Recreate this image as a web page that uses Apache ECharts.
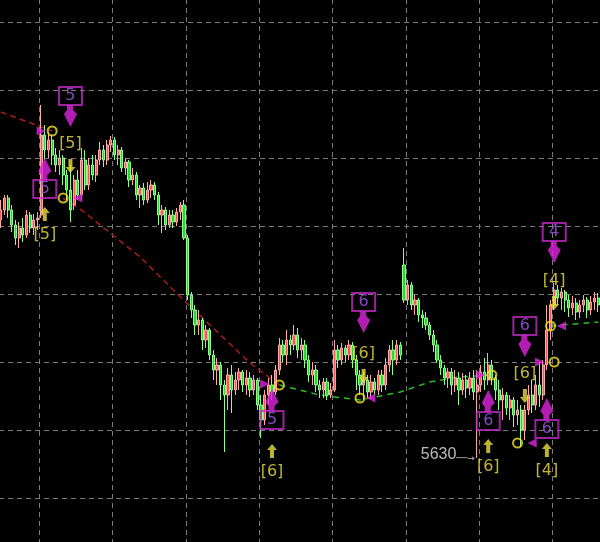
<!DOCTYPE html>
<html>
<head>
<meta charset="utf-8">
<script src="https://cdn.jsdelivr.net/npm/echarts@6/dist/echarts.min.js"></script>
<style>
html,body{margin:0;padding:0;background:#000;overflow:hidden;width:600px;height:542px;position:relative;}
#chart{position:absolute;left:-1px;top:-46px;width:601px;height:612px;}
</style>
</head>
<body>
<div id="chart"></div>
<script>
// ---- candle data (open, close, low, high) ----
const opens = [
5749,5754,5760,5754,5746.5,5740,5745,5741.5,5751.5,5745,
5749,5751.5,5791.5,5784,5789,5781.5,5776.5,5780,5771.5,5764,
5756.5,5769,5761.5,5779,5766.5,5776.5,5771.5,5779,5784,5779,
5786.5,5789,5781.5,5784,5775,5778,5769,5771.5,5761.5,5765,
5759,5764,5766.5,5761.5,5751.5,5754,5746.5,5751.5,5748,5753,
5756.5,5740,5711.5,5704,5696.5,5699,5689,5694,5681.5,5674,
5676.5,5666.5,5661.5,5671.5,5664,5669,5673,5666.5,5670,5664,
5669,5656.5,5649,5661.5,5666.5,5663,5674,5686.5,5681.5,5689,
5686.5,5691.5,5684,5686.5,5679,5671.5,5674,5666.5,5664,5668,
5661.5,5664,5684,5679,5685,5681.5,5686.5,5679,5671.5,5666.5,
5669,5663,5668,5664,5671.5,5666.5,5676.5,5684,5679,5686.5,
5726.5,5709,5716.5,5706.5,5709,5701.5,5700,5696.5,5691.5,5686.5,
5679,5675,5670,5673,5666.5,5670,5664,5669,5665,5670,
5663,5666.5,5673,5669,5676.5,5670,5664,5659,5661.5,5655,
5659,5651.5,5654,5644,5654,5661.5,5656.5,5666.5,5661.5,5676.5,
5694,5706.5,5714,5710,5713,5709,5705,5707.5,5703,5706.5,
5709,5704,5708,5710
];
const closes = [
5754,5760,5754,5746.5,5740,5745,5741.5,5751.5,5745,5749,
5750,5791.5,5784,5789,5781.5,5776.5,5780,5771.5,5764,5754,
5769,5761.5,5779,5766.5,5776.5,5771.5,5779,5784,5779,5786.5,
5789,5781.5,5784,5775,5778,5769,5771.5,5761.5,5765,5759,
5764,5766.5,5761.5,5751.5,5754,5746.5,5751.5,5748,5753,5756.5,
5740,5711.5,5704,5696.5,5699,5689,5694,5681.5,5674,5676.5,
5666.5,5661.5,5671.5,5664,5669,5673,5666.5,5670,5664,5669,
5656.5,5649,5661.5,5666.5,5663,5674,5686.5,5681.5,5689,5686.5,
5691.5,5684,5686.5,5679,5671.5,5674,5666.5,5664,5668,5661.5,
5664,5684,5679,5685,5681.5,5686.5,5679,5671.5,5666.5,5669,
5663,5668,5664,5671.5,5666.5,5676.5,5684,5679,5686.5,5681.5,
5709,5716.5,5706.5,5709,5701.5,5700,5696.5,5691.5,5686.5,5679,
5675,5670,5673,5666.5,5670,5664,5669,5665,5670,5663,
5666.5,5673,5669,5676.5,5670,5664,5659,5661.5,5655,5659,
5651.5,5654,5644,5654,5661.5,5656.5,5666.5,5661.5,5676.5,5694,
5706.5,5714,5710,5713,5709,5705,5707.5,5703,5706.5,5709,
5704,5708,5710,5706.5
];
const lows = [
5745,5751.5,5750,5743,5736.5,5735,5738,5740,5742.5,5741.5,
5744,5750,5779,5780,5776.5,5773,5771.5,5766.5,5759,5748,
5754,5759,5759,5764,5764,5769,5768,5776.5,5775.5,5776.5,
5783,5779,5776.5,5773,5771.5,5765.5,5766.5,5759,5755,5756.5,
5757.5,5760,5759,5746.5,5742.5,5744,5745,5745,5746,5749,
5739,5709,5700,5691.5,5691.5,5684,5685,5679,5669,5666.5,
5659,5633,5654,5652.5,5661.5,5664,5663,5661.5,5660.5,5661.5,
5654,5640,5646.5,5656.5,5659,5661.5,5671.5,5678,5676.5,5681.5,
5684,5680,5679,5675,5668,5666.5,5663,5660,5660,5659,
5660,5663,5675,5676.5,5678,5679,5675,5664,5661.5,5659,
5660,5660,5661.5,5661.5,5663,5664,5673,5671.5,5676.5,5679,
5707.5,5706.5,5704,5701.5,5698,5695,5694,5689,5683,5677.5,
5671.5,5666.5,5665,5661.5,5663,5656.5,5661.5,5660,5661.5,5659,
5630,5663,5664,5666.5,5666.5,5659,5654,5649,5651.5,5649,
5645.5,5646.5,5635.5,5639,5651.5,5652.5,5654,5655.5,5659,5674,
5689,5704,5706.5,5704,5703,5700.5,5701.5,5699,5700,5703,
5700,5701.5,5704,5703
];
const highs = [
5759,5761.5,5761.5,5756.5,5749,5748,5750,5754,5753,5752,
5753,5806.5,5796.5,5793,5791.5,5785,5784,5781.5,5774,5776.5,
5771.5,5774,5785,5784,5780,5781.5,5781.5,5788,5786.5,5789,
5791,5790.5,5786.5,5785.5,5780,5779,5775,5773,5766.5,5767.5,
5768,5769,5768,5763,5756.5,5755.5,5754,5754,5755,5758,
5759,5741.5,5713,5706.5,5704,5700,5696.5,5695,5684,5680,
5678,5669,5675,5676.5,5673,5675,5674,5674,5673,5671.5,
5670,5661.5,5664,5670,5671.5,5676.5,5690,5689,5694,5691.5,
5696.5,5695,5690,5689,5681.5,5678,5676.5,5669,5670,5670,
5667.5,5689,5686.5,5687.5,5686.5,5689,5688,5681.5,5674,5673,
5671.5,5671.5,5670,5674,5674,5680,5686.5,5689,5689,5688,
5735,5719,5718,5711.5,5710,5704,5703,5698,5694,5689,
5681.5,5676.5,5675,5675,5674,5673,5672.5,5671.5,5673,5674,
5674,5676.5,5680,5682.5,5679,5671.5,5669,5665,5663,5661.5,
5660.5,5659,5656.5,5656.5,5666.5,5669,5671.5,5678,5679,5706.5,
5709,5717.5,5716.5,5715,5714,5711.5,5711,5710,5709,5711.5,
5710.5,5711,5713,5712.5
];
const categories = opens.map((_, i) => String(i));

// ---- trend lines (bar index, price) ----
const redLineA = [[0, 5803], [14, 5793.5]];
const redLineB = [[17, 5760], [22, 5754], [38, 5730.5], [49, 5710.5], [68, 5677.5], [76, 5666.5]];
const greenLineA = [[76, 5666.5], [87, 5661.5], [98, 5659], [109, 5663], [117, 5668], [125, 5670.5], [134, 5671.5]];
const greenLineB = [[150, 5696], [163, 5698]];

// ---- signals (bar index, price, text) ----
const sellPins = [[19, 5795.5, '5'], [99, 5692.5, '6'], [143, 5680.5, '6'], [151, 5727.5, '4']];
const buyPins  = [[12, 5780, '5'], [74, 5664.5, '5'], [133, 5664, '6'], [149, 5660, '6']];
const sellTags = [[19, 5776, '[5]'], [99, 5671, '[6]'], [143, 5661, '[6]'], [151, 5707.5, '[4]']];
const buyTags  = [[12, 5752, '[5]'], [74, 5633.5, '[6]'], [133, 5636, '[6]'], [149, 5634, '[4]']];
const pivots   = [[14, 5793.5], [17, 5760], [76, 5666.5], [98, 5660], [134, 5671.5], [141, 5637.5], [151, 5678], [150, 5696]];
const rightTris = [[11, 5793.5], [72, 5667], [131, 5671.5], [147, 5678]];
const leftTris  = [[21, 5760], [101, 5660], [145, 5637.5], [153, 5696]];
const lowMark = [130, 5630, '5630'];

const candles = opens.map((o, i) => [o, closes[i], lows[i], highs[i]]);
const toItems = arr => arr.map(d => ({ value: [d[0], d[1]], name: d[2] || '' }));

const MAG = '#e024e0';
const YEL = '#ece03c';
const pinDown = 'path://M3,0 L9,0 L9,5 L13,9 L6.5,22 L0,9 L3,5 Z';
const pinUp = 'path://M6.5,0 L13,13 L9,17 L9,22 L3,22 L3,17 L0,13 Z';
const arrUp = 'path://M5,0 L10,6 L7,6 L7,14 L3,14 L3,6 L0,6 Z';
const arrDown = 'path://M3,0 L7,0 L7,8 L10,8 L5,14 L0,8 L3,8 Z';

const boxLabel = (dy) => ({
  show: true, position: 'inside', offset: [0, dy], formatter: '{b}',
  color: '#a458ec', fontSize: 16, fontFamily: 'DejaVu Sans',
  borderColor: '#c02cc4', borderWidth: 2, padding: [1, 2],
  width: 19, height: 16, lineHeight: 16, align: 'center', verticalAlign: 'middle'
});
const tagLabel = (dy) => ({
  show: true, position: 'inside', offset: [0, dy], formatter: '{b}',
  color: YEL, fontSize: 16, fontFamily: 'DejaVu Sans'
});

const chart = echarts.init(document.getElementById('chart'));
chart.setOption({
  backgroundColor: '#000',
  animation: false,
  grid: { left: 0, right: 0, top: 0, bottom: 0 },
  xAxis: {
    type: 'category', data: categories, boundaryGap: true,
    axisLine: { show: false }, axisTick: { show: false }, axisLabel: { show: false },
    splitLine: { show: true, interval: (idx) => idx % 20 === 11,
      lineStyle: { color: '#7a7a7a', type: [5, 4], width: 1 } }
  },
  yAxis: {
    type: 'value', min: 5576, max: 5882, interval: 34,
    axisLine: { show: false }, axisTick: { show: false }, axisLabel: { show: false },
    splitLine: { show: true, lineStyle: { color: '#7a7a7a', type: [5, 4], width: 1 } }
  },
  series: [
    { type: 'line', data: redLineA, symbol: 'none', z: 1,
      lineStyle: { color: '#a81c1c', width: 1.5, type: [6, 4] } },
    { type: 'line', data: redLineB, symbol: 'none', z: 1,
      lineStyle: { color: '#a81c1c', width: 1.5, type: [6, 4] } },
    { type: 'line', data: greenLineA, symbol: 'none', z: 1,
      lineStyle: { color: '#24c024', width: 1.5, type: [6, 5] } },
    { type: 'line', data: greenLineB, symbol: 'none', z: 1,
      lineStyle: { color: '#24c024', width: 1.5, type: [6, 5] } },
    { type: 'candlestick', data: candles, barWidth: 2.7, z: 2,
      itemStyle: { color: '#ff5252', color0: '#28d828', borderColor: '#ffaaaa',
        borderColor0: '#8cff8c', borderWidth: 1 } },
    { type: 'scatter', data: toItems(sellPins), symbol: pinDown, symbolSize: [13, 22],
      symbolOffset: [0, -11], z: 5, itemStyle: { color: MAG }, label: boxLabel(-20) },
    { type: 'scatter', data: toItems(buyPins), symbol: pinUp, symbolSize: [13, 22],
      symbolOffset: [0, 11], z: 5, itemStyle: { color: MAG }, label: boxLabel(20) },
    { type: 'scatter', data: toItems(sellTags), symbol: arrDown, symbolSize: [10, 14],
      z: 5, itemStyle: { color: YEL }, label: tagLabel(-22) },
    { type: 'scatter', data: toItems(buyTags), symbol: arrUp, symbolSize: [10, 14],
      z: 5, itemStyle: { color: YEL }, label: tagLabel(21) },
    { type: 'scatter', data: pivots, symbol: 'circle', symbolSize: 9, z: 6,
      itemStyle: { color: 'rgba(0,0,0,0)', borderColor: '#f2e424', borderWidth: 2 } },
    { type: 'scatter', data: rightTris, symbol: 'path://M0,0 L10,5 L0,10 Z', symbolSize: 9, z: 6,
      itemStyle: { color: MAG } },
    { type: 'scatter', data: leftTris, symbol: 'path://M10,0 L0,5 L10,10 Z', symbolSize: 9, z: 6,
      itemStyle: { color: MAG } },
    { type: 'scatter', data: [{ value: [lowMark[0], lowMark[1]], name: lowMark[2] }],
      symbol: 'rect', symbolSize: 1, z: 6, itemStyle: { color: 'rgba(0,0,0,0)' },
      label: { show: true, position: 'left', distance: 2, offset: [0, -3],
        formatter: '{t|{b}}{a|──→}',
        rich: {
          t: { color: '#e6e6e6', fontSize: 16, fontFamily: 'Liberation Sans' },
          a: { color: '#e6e6e6', fontSize: 9, fontFamily: 'DejaVu Sans', padding: [8, 0, 0, 0] }
        } } }
  ]
});
</script>
</body>
</html>
